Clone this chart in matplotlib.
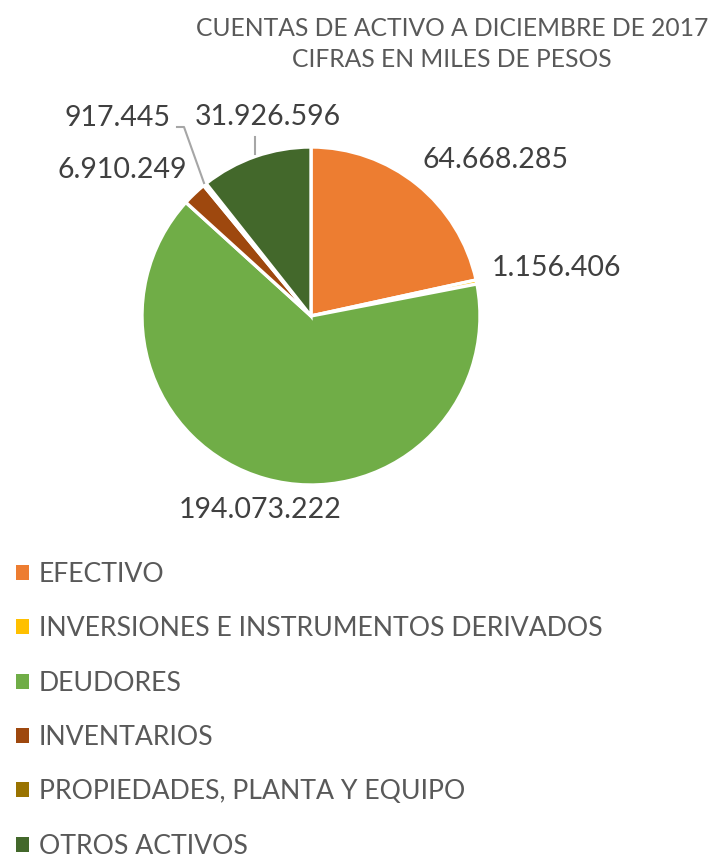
import matplotlib
matplotlib.use('Agg')
import matplotlib.pyplot as plt
from matplotlib.patches import Patch

# datos
cuentas = ['EFECTIVO', 'INVERSIONES E INSTRUMENTOS DERIVADOS', 'DEUDORES',
           'INVENTARIOS', 'PROPIEDADES, PLANTA Y EQUIPO', 'OTROS ACTIVOS']
valores = [64668285, 1156406, 194073222, 6910249, 917445, 31926596]
colores = ['#ED7D31', '#FFC000', '#70AD47', '#9E480E', '#997300', '#43682B']
titulo = 'CUENTAS DE ACTIVO A DICIEMBRE DE 2017\nCIFRAS EN MILES DE PESOS'

GRIS = '#595959'
plt.rcParams['font.family'] = ['Lato', 'DejaVu Sans']

W, H = 717, 855
fig = plt.figure(figsize=(W / 100, H / 100), dpi=100)

# pie centre (311,316) px, rayon 169 px
cx, cy, r = 311, 316, 169
ax = fig.add_axes([(cx - r) / W, (H - cy - r) / H, 2 * r / W, 2 * r / H])
wedges, _ = ax.pie(valores, colors=colores, startangle=90, counterclock=False,
                   radius=1, wedgeprops=dict(edgecolor='white', linewidth=2.4))
ax.set_xlim(-1, 1)
ax.set_ylim(-1, 1)
ax.set_aspect('equal')
ax.axis('off')

def fmt(v):
    return '{:,}'.format(v).replace(',', '.')

# positions des etiquettes (pixels)
pos_etiq = [(496, 160), (556, 268), (260, 510), (122, 170), (118, 118), (268, 117)]
for v, (px, py) in zip(valores, pos_etiq):
    ax.text((px - cx) / r, (cy - py) / r, fmt(v), ha='center', va='center',
            fontsize=20.5, color='#404040', clip_on=False)

# lignes de rappel
def lig(xs, ys):
    ax.plot([(x - cx) / r for x in xs], [(cy - y) / r for y in ys],
            color='#A6A6A6', lw=1.5, clip_on=False)
lig([177, 184, 204], [127, 127, 183])
lig([255, 255], [137, 154])

fig.text(452 / W, 1 - 44 / H, titulo, ha='center', va='center', fontsize=17.7,
         color=GRIS, linespacing=1.45)

poignees = [Patch(facecolor=c, edgecolor='none') for c in colores]
fig.legend(poignees, cuentas, loc='upper left', bbox_to_anchor=(0.0, 1 - 546 / H),
           frameon=False, fontsize=19.2, labelcolor=GRIS, handlelength=0.5,
           handleheight=0.5, handletextpad=0.35, labelspacing=1.1,
           borderaxespad=0.3, borderpad=0.3)

fig.savefig('out.png', dpi=100)
